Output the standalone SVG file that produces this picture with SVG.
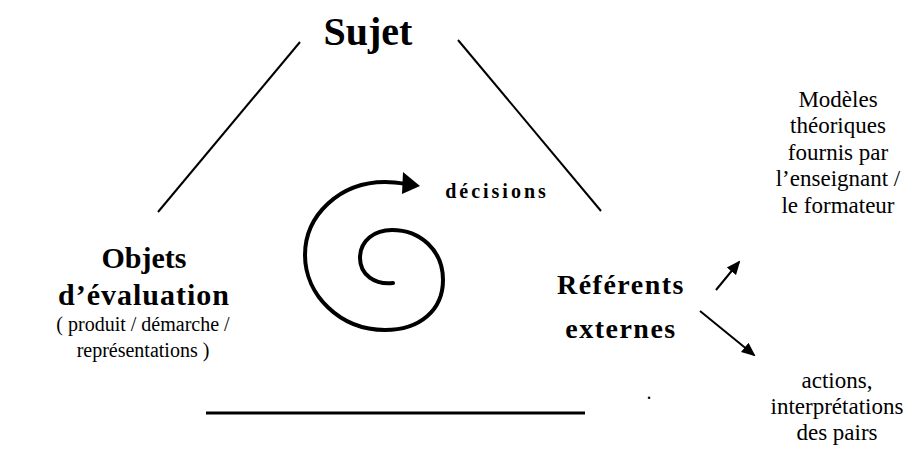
<svg xmlns="http://www.w3.org/2000/svg" width="912" height="450" viewBox="0 0 912 450">
<style>
text{font-family:'Liberation Serif','Tinos','DejaVu Serif',serif;fill:#000;text-anchor:middle}
.b{font-weight:bold}
.s{font-size:23px}
.ln{stroke:#000;stroke-width:2;fill:none}
</style>
<defs>
<marker id="ah" markerWidth="14" markerHeight="14" refX="12" refY="6" orient="auto" markerUnits="userSpaceOnUse" viewBox="0 0 14 12">
<path d="M0,0 L14,6 L0,12 z" fill="#000"/>
</marker>
</defs>
<g id="connectors">
<line class="ln" x1="300" y1="42" x2="158" y2="212"/>
<line class="ln" x1="458" y1="40" x2="601" y2="211"/>
<line x1="206" y1="413" x2="585" y2="413" stroke="#000" stroke-width="3"/>
<line class="ln" x1="716" y1="290" x2="739" y2="262" marker-end="url(#ah)"/>
<line class="ln" x1="700" y1="311" x2="754" y2="355" marker-end="url(#ah)"/>
</g>
<g id="spiral">
<path d="M393,283 C375,285 360,275 360,258 C360,240 375,230 392,230 C420,230 443,250 443,280 C443,310 420,330 385,330 C340,330 305,295 305,255 C305,215 340,182 385,182 C393,182 400,183 406,184" fill="none" stroke="#000" stroke-width="4" stroke-linecap="round"/>
<path d="M403,172 L420,186 L402,194 z" fill="#000"/>
</g>
<g id="sujet"><text class="b" x="368" y="45" font-size="40">Sujet</text></g>
<g id="decisions"><text class="b" x="497" y="198" font-size="20" letter-spacing="3">décisions</text></g>
<g id="objets">
<text class="b" x="144" y="268" font-size="30">Objets</text>
<text class="b" x="144" y="305" font-size="30" letter-spacing="1">d’évaluation</text>
<text x="143" y="331" font-size="20">( produit / démarche /</text>
<text x="143" y="357" font-size="20">représentations )</text>
</g>
<g id="referents">
<text class="b" x="621" y="294" font-size="28" letter-spacing="1.5">Référents</text>
<text class="b" x="621" y="338" font-size="28" letter-spacing="1.5">externes</text>
</g>
<g id="modeles">
<text class="s" x="838" y="107">Modèles</text>
<text class="s" x="838" y="133">théoriques</text>
<text class="s" x="838" y="160">fournis par</text>
<text class="s" x="838" y="186">l’enseignant /</text>
<text class="s" x="838" y="213">le formateur</text>
</g>
<g id="actions">
<text class="s" x="837" y="388">actions,</text>
<text class="s" x="837" y="414">interprétations</text>
<text class="s" x="837" y="440">des pairs</text>
</g>
<text x="649" y="399" font-size="20">.</text>
</svg>
